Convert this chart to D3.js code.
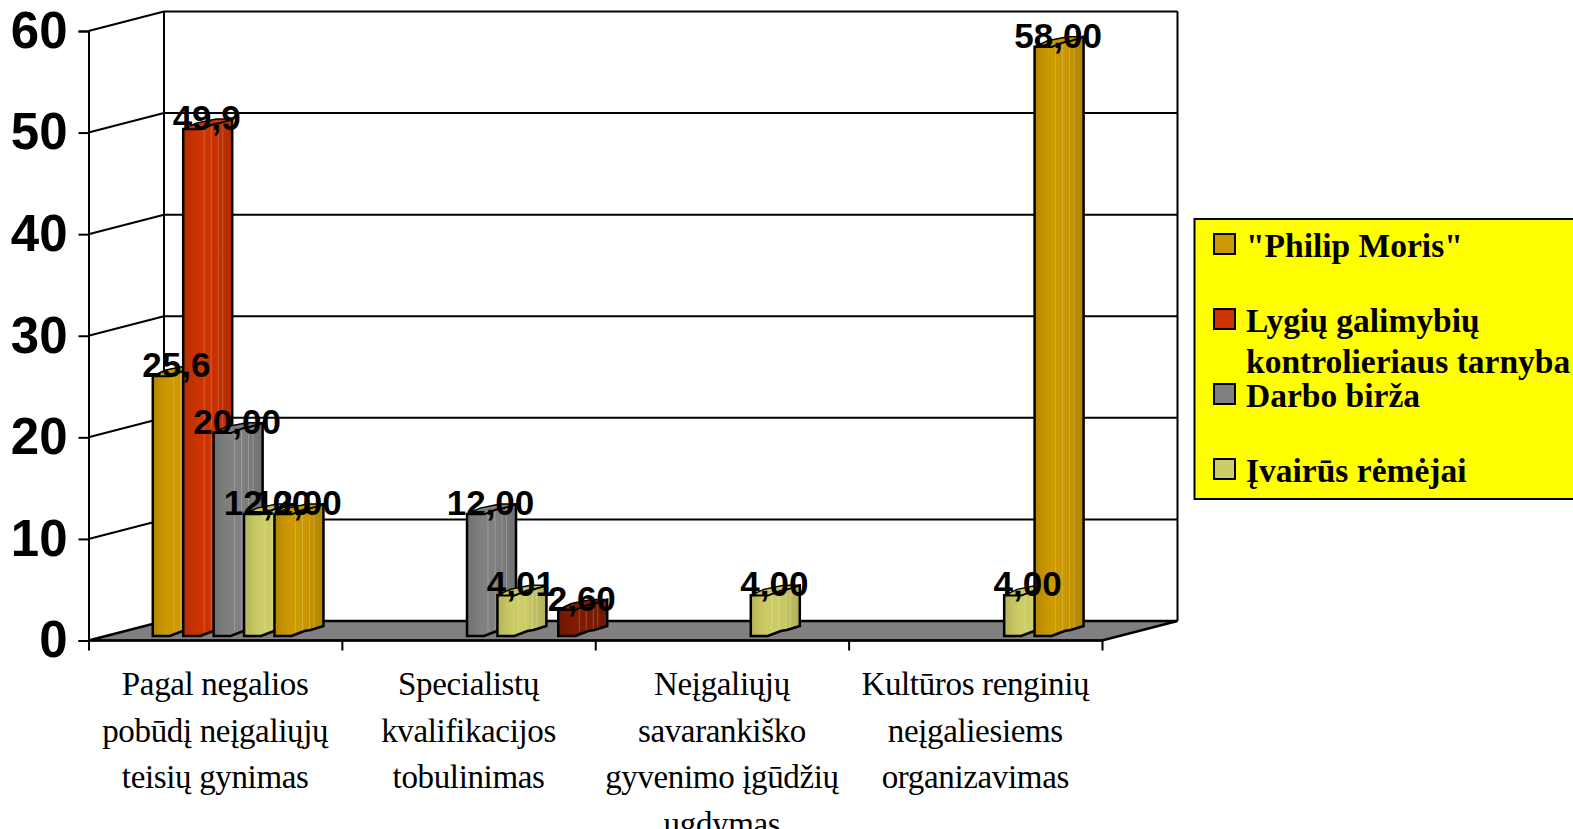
<!DOCTYPE html>
<html>
<head>
<meta charset="utf-8">
<script src="https://cdn.jsdelivr.net/npm/d3@7"></script>
<style>
	html, body { margin: 0; padding: 0; background: #fff; overflow: hidden; }
	text { fill: #000; }
	.y.axis text { font: bold 51px "Liberation Sans", Arial, sans-serif; }
	.value { font: bold 35px "Liberation Sans", Arial, sans-serif; text-anchor: middle; }
	.category { font: 33px "Liberation Serif", "Times New Roman", serif; text-anchor: middle; letter-spacing: -0.35px; }
	.legendText { font: bold 33.5px "Liberation Serif", "Times New Roman", serif; }
</style>
</head>
<body>
<div id="graph"></div>
<script>
// chart values
const categories = [
	["Pagal negalios", "pobūdį neįgaliųjų", "teisių gynimas"],
	["Specialistų", "kvalifikacijos", "tobulinimas"],
	["Neįgaliųjų", "savarankiško", "gyvenimo įgūdžių", "ugdymas"],
	["Kultūros renginių", "neįgaliesiems", "organizavimas"]
];
const philipMoris = [25.6, null, null, null];
const lygiuGalimybiu = [49.9, null, null, null];
const darboBirza = [20, 12, null, null];
const ivairus = [12, 4.01, 4, 4];
const fifthSeries = [12, null, null, 58];   // not named in the legend
const sixthSeries = [null, 2.6, null, null]; // not named in the legend
const seriesValues = [philipMoris, lygiuGalimybiu, darboBirza, ivairus, fifthSeries, sixthSeries];
const seriesDecimals = [1, 1, 2, 2, 2, 2];
const seriesColors = ["#cc9900", "#cc3300", "#808080", "#cccc66", "#cc9900", "#801a00"];
const legendNames = [["\"Philip Moris\""], ["Lygių galimybių", "kontrolieriaus tarnyba"], ["Darbo birža"], ["Įvairūs rėmėjai"]];
const yTicks = [0, 10, 20, 30, 40, 50, 60];

const width = 1573;
const height = 829;
const depth = {x: 75.5, y: 19.5};
const barShift = {x: 15, y: 4.5};

const graph = d3.select("div#graph")
	.append("svg")
	.attr("width", width)
	.attr("height", height);

const yScale = d3.scaleLinear().domain([0, 60]).range([640.5, 31]);
const xScale = d3.scaleLinear().domain([0, categories.length]).range([88.5, 1102]);
const groupScale = d3.scaleBand().domain(d3.range(categories.length)).range([88.5, 1102]);
const seriesScale = d3.scaleBand().domain(d3.range(seriesValues.length)).range([64.3, 246.8]);

// gradients, one per colour
const defs = graph.append("defs");
seriesColors.forEach((c, i) => {
	const g = defs.append("linearGradient").attr("id", "bar" + i);
	const stops = [[0, .35], [.3, 0], [.55, 0], [.72, .12], [1, .4]];
	stops.forEach(s => {
		g.append("stop")
			.attr("offset", s[0])
			.attr("stop-color", d3.color(c).darker(s[1]).formatHex());
	});
});

const x0 = xScale(0), x1 = xScale(4), y0 = yScale(0);

// back wall and its grid lines
graph.selectAll("line.grid").data(yTicks.slice(1))
	.enter().append("line")
	.attr("class", "grid")
	.attr("x1", x0 + depth.x)
	.attr("x2", x1 + depth.x)
	.attr("y1", d => yScale(d) - depth.y)
	.attr("y2", d => yScale(d) - depth.y)
	.attr("stroke", "#000")
	.attr("stroke-width", 2);

// side wall diagonals
graph.selectAll("line.side").data(yTicks.slice(1))
	.enter().append("line")
	.attr("class", "side")
	.attr("x1", x0)
	.attr("x2", x0 + depth.x)
	.attr("y1", d => yScale(d))
	.attr("y2", d => yScale(d) - depth.y)
	.attr("stroke", "#000")
	.attr("stroke-width", 2);

graph.append("path")
	.attr("d", `M${x0 + depth.x},${y0 - depth.y}V${yScale(60) - depth.y}M${x1 + depth.x},${yScale(60) - depth.y}V${y0 - depth.y}`)
	.attr("fill", "none")
	.attr("stroke", "#000")
	.attr("stroke-width", 2);

// floor
graph.append("path")
	.attr("d", `M${x0},${y0}L${x1},${y0}L${x1 + depth.x},${y0 - depth.y}L${x0 + depth.x},${y0 - depth.y}Z`)
	.attr("fill", "#808080")
	.attr("stroke", "#000")
	.attr("stroke-width", 2.5);

// axes
const yAxis = d3.axisLeft(yScale).tickValues(yTicks).tickSize(10).tickPadding(11);
const xAxis = d3.axisBottom(xScale).tickValues(d3.range(categories.length + 1)).tickSize(10).tickFormat("");

graph.append("g")
	.attr("class", "x axis")
	.attr("transform", `translate(0, ${y0})`)
	.call(xAxis);

graph.append("g")
	.attr("class", "y axis")
	.attr("transform", `translate(${x0}, 0)`)
	.call(yAxis);

graph.selectAll(".axis path, .axis line").attr("stroke", "#000").attr("stroke-width", 2);
graph.selectAll(".x.axis path").attr("d", `M${x0},0H${x1}`);

// bars, left to right so each one overlaps the previous one
const barTop = d => yScale(d) - barShift.y;
const barBase = yScale(0) - barShift.y;
const edge = [[0, 0], [17, 0], [30, -5], [36, -6], [49, -10]];
const backEdge = [[0, 0], [13, -6], [33, -10], [49, -10]];
const bars = [];
categories.forEach((c, g) => {
	seriesValues.forEach((s, i) => {
		if (s[g] !== null) bars.push({group: g, series: i, value: s[g]});
	});
});

const bar = graph.selectAll("g.bar").data(bars)
	.enter().append("g")
	.attr("class", "bar")
	.attr("transform", d => `translate(${groupScale(d.group) + seriesScale(d.series)}, 0)`);

bar.append("path")
	.attr("d", d => {
		const t = barTop(d.value);
		const bottom = edge.map(p => [p[0], barBase + p[1]]);
		const top = edge.slice().reverse().map(p => [p[0], t + p[1]]);
		return d3.line()(bottom.concat(top)) + "Z";
	})
	.attr("fill", d => `url(#bar${d.series})`)
	.attr("stroke", "#000")
	.attr("stroke-width", 2.5);

// thin light lines on the bar body
[21, 28, 35, 39.5].forEach(o => {
	bar.append("line")
		.attr("x1", o)
		.attr("x2", o)
		.attr("y1", d => barTop(d.value) - o * .2)
		.attr("y2", () => barBase - o * .2)
		.attr("stroke", "#fff")
		.attr("stroke-opacity", .22)
		.attr("stroke-width", 1);
});

bar.append("path")
	.attr("d", d => {
		const t = barTop(d.value);
		const back = backEdge.map(p => [p[0], t + p[1]]);
		const front = edge.slice().reverse().map(p => [p[0], t + p[1]]);
		return d3.line()(back.concat(front)) + "Z";
	})
	.attr("fill", d => d3.color(seriesColors[d.series]).darker(.1).formatHex())
	.attr("stroke", "#000")
	.attr("stroke-width", 1.5);

// value labels go last, they sit on top of all the bars
graph.selectAll("text.value").data(bars)
	.enter().append("text")
	.attr("class", "value")
	.attr("x", d => groupScale(d.group) + seriesScale(d.series) + 23.5)
	.attr("y", d => barTop(d.value) + 1)
	.text(d => d.value.toFixed(seriesDecimals[d.series]).replace(".", ","));

// category labels
const catLabel = graph.selectAll("text.category").data(categories)
	.enter().append("text")
	.attr("class", "category")
	.attr("y", 695);

catLabel.selectAll("tspan").data((d, g) => d.map(t => ({t: t, g: g})))
	.enter().append("tspan")
	.attr("x", d => groupScale(d.g) + groupScale.bandwidth() / 2)
	.attr("dy", (d, i) => i ? 46.5 : 0)
	.text(d => d.t);

// legend
graph.append("rect")
	.attr("x", 1194.5)
	.attr("y", 219)
	.attr("width", 400)
	.attr("height", 280)
	.attr("fill", "#ffff00")
	.attr("stroke", "#000")
	.attr("stroke-width", 2);

const legend = graph.selectAll("g.legend").data(legendNames)
	.enter().append("g")
	.attr("class", "legend")
	.attr("transform", (d, i) => `translate(1214, ${234 + 75 * i})`);

legend.append("rect")
	.attr("width", 21)
	.attr("height", 20)
	.attr("fill", (d, i) => seriesColors[i])
	.attr("stroke", "#000")
	.attr("stroke-width", 2);

legend.selectAll("text").data(d => d)
	.enter().append("text")
	.attr("class", "legendText")
	.attr("x", 32)
	.attr("y", (d, i) => 22.5 + (i ? 41 : 0))
	.text(d => d);
</script>
</body>
</html>
